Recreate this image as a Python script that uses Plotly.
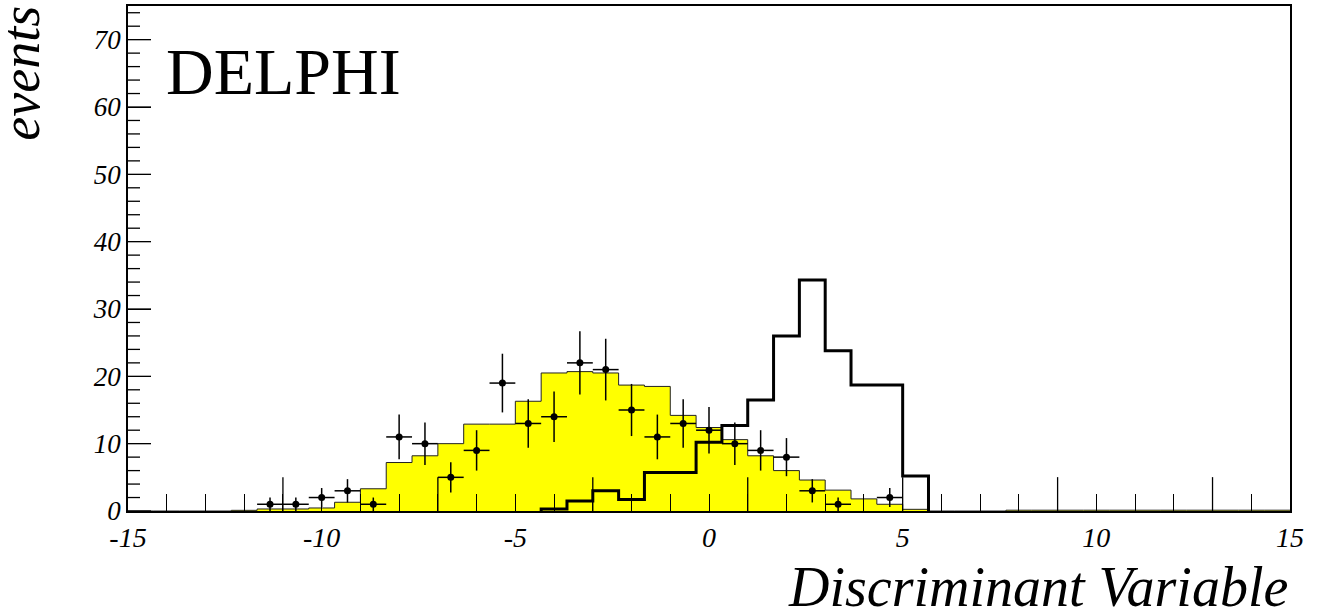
import numpy as np
import plotly.graph_objects as go

# ---------------- data ----------------
x_range = [-15, 15]
y_range = [0, 75]
n_bins = 45

# background (yellow) per bin
background = [0, 0, 0, 0, 0.1, 0.3, 0.3, 0.45, 1.3, 3.3,
              7.2, 8.2, 10.0, 12.9, 12.9, 16.3, 20.5, 20.7, 20.5, 18.7,
              18.5, 14.2, 12.4, 10.6, 8.2, 6.0, 4.6, 3.1, 1.8, 1.0,
              0.25, 0, 0, 0, 0.12, 0.12, 0.12, 0.12, 0.12, 0.12,
              0.12, 0.12, 0.12, 0.12, 0.12]

# signal (thick black) per bin
signal = [0, 0, 0, 0, 0, 0, 0, 0, 0, 0,
          0, 0, 0, 0, 0, 0, 0.3, 1.5, 3.0, 1.7,
          5.7, 5.7, 10.2, 12.7, 16.5, 26.0, 34.3, 23.8, 18.7, 18.7,
          5.2, 0, 0, 0, 0, 0, 0, 0, 0, 0,
          0, 0, 0, 0, 0]

# observed data per bin
data = [0, 0, 0, 0, 0, 1, 1, 2, 3, 1,
        11, 10, 5, 9, 19, 13, 14, 22, 21, 15,
        11, 13, 12, 10, 9, 8, 3, 1, 0, 2,
        0, 0, 0, 0, 0, 0, 0, 0, 0, 0,
        0, 0, 0, 0, 0]
data_err = [0, 0, 0, 0, 0, 1.0, 1.0, 1.41, 1.73, 1.0,
            3.32, 3.16, 2.24, 3.0, 4.36, 3.61, 3.74, 4.69, 4.58, 3.87,
            3.32, 3.61, 3.46, 3.16, 3.0, 2.83, 1.73, 1.0, 0, 1.41,
            0, 0, 0, 0, 0, 0, 0, 0, 0, 0,
            0, 0, 0, 0, 0]

x_tickvals = [-15, -10, -5, 0, 5, 10, 15]
x_ticktext = ["-15", "-10", "-5", "0", "5", "10", "15"]
x_long_ticks = [-11, -7, -3, 1, 5, 9, 13]
y_tickvals = [0, 10, 20, 30, 40, 50, 60, 70]
y_ticktext = ["0", "10", "20", "30", "40", "50", "60", "70"]
y_minor_ticks = [v for v in range(0, 76, 2) if v % 10 != 0]

# ---------------- layout constants (pixels) ----------------
W, H = 1327, 616
ML, MR, MT, MB = 128, 37, 4, 105
plot_w = W - ML - MR
plot_h = H - MT - MB
long_tick_px = 34
y_major_px, y_minor_px = 23, 12

# ---------------- derived ----------------
edges = np.linspace(x_range[0], x_range[1], n_bins + 1)
centers = 0.5 * (edges[:-1] + edges[1:])
half_w = 0.5 * (edges[1] - edges[0])
x_per_px = (x_range[1] - x_range[0]) / plot_w
y_per_px = (y_range[1] - y_range[0]) / plot_h

bg = np.array(background, dtype=float)
sg = np.array(signal, dtype=float)
dt = np.array(data, dtype=float)
de = np.array(data_err, dtype=float)

FONT = "Liberation Serif"

fig = go.Figure()

# yellow background histogram
fig.add_trace(go.Scatter(
    x=edges, y=np.append(bg, bg[-1]),
    mode="lines", line=dict(shape="hv", color="#222222", width=1),
    fill="tozeroy", fillcolor="#ffff00", hoverinfo="skip", showlegend=False))

# signal histogram (only the populated range)
nz = np.nonzero(sg)[0]
i0, i1 = nz[0], nz[-1] + 1
sx = np.concatenate([[edges[i0]], edges[i0:i1 + 1]])
sy = np.concatenate([[0.0], sg[i0:i1], [0.0]])
fig.add_trace(go.Scatter(
    x=sx, y=sy, mode="lines",
    line=dict(shape="hv", color="black", width=3),
    hoverinfo="skip", showlegend=False))

# data points
m = dt > 0
fig.add_trace(go.Scatter(
    x=centers[m], y=dt[m], mode="markers",
    marker=dict(color="black", size=7, symbol="circle"),
    error_x=dict(type="constant", value=half_w, color="black", thickness=1.5, width=0),
    error_y=dict(type="data", array=de[m], color="black", thickness=1.5, width=0),
    showlegend=False))

# longer tick marks along the bottom axis
lx, ly = [], []
for v in x_long_ticks:
    lx += [v, v, None]
    ly += [y_range[0], y_range[0] + long_tick_px * y_per_px, None]
fig.add_trace(go.Scatter(
    x=lx, y=ly, mode="lines", line=dict(color="black", width=1.3),
    hoverinfo="skip", showlegend=False))

# inward tick marks on the left axis
tx, ty = [], []
for v in y_tickvals:
    tx += [x_range[0], x_range[0] + y_major_px * x_per_px, None]
    ty += [v, v, None]
for v in y_minor_ticks:
    tx += [x_range[0], x_range[0] + y_minor_px * x_per_px, None]
    ty += [v, v, None]
fig.add_trace(go.Scatter(
    x=tx, y=ty, mode="lines", line=dict(color="black", width=1.3),
    hoverinfo="skip", showlegend=False))

fig.update_layout(
    width=W, height=H,
    margin=dict(l=ML, r=MR, t=MT, b=MB),
    paper_bgcolor="white", plot_bgcolor="white",
    font=dict(family=FONT, color="black"),
    xaxis=dict(
        range=x_range, tickvals=x_tickvals, ticktext=x_ticktext,
        ticks="inside", ticklen=17, tickwidth=1.3, tickcolor="black",
        minor=dict(dtick=1, tick0=0, ticks="inside", ticklen=17, tickwidth=1.3, tickcolor="black"),
        showline=True, linecolor="black", linewidth=2, mirror=True,
        showgrid=False, zeroline=False, layer="above traces",
        tickfont=dict(family=FONT, size=28, style="italic")),
    yaxis=dict(
        range=y_range, tickvals=y_tickvals, ticktext=y_ticktext,
        ticks="inside", ticklen=y_major_px, tickwidth=1.3, tickcolor="black",
        showline=True, linecolor="black", linewidth=1.5, mirror=True,
        showgrid=False, zeroline=False,
        tickfont=dict(family=FONT, size=27, style="italic")),
    annotations=[
        dict(text="DELPHI", xref="paper", yref="paper", x=0.031, y=0.87,
             xanchor="left", yanchor="middle", showarrow=False,
             font=dict(family=FONT, size=66, color="black")),
        dict(text="events", xref="paper", yref="paper", x=-0.092, y=0.866,
             xanchor="center", yanchor="middle", textangle=-90, showarrow=False,
             font=dict(family=FONT, size=54, style="italic", color="black")),
        dict(text="Discriminant Variable", xref="paper", yref="paper", x=1.0, y=-0.15,
             xanchor="right", yanchor="middle", showarrow=False,
             font=dict(family=FONT, size=56, style="italic", color="black")),
    ],
)

fig.write_html("out.html")
